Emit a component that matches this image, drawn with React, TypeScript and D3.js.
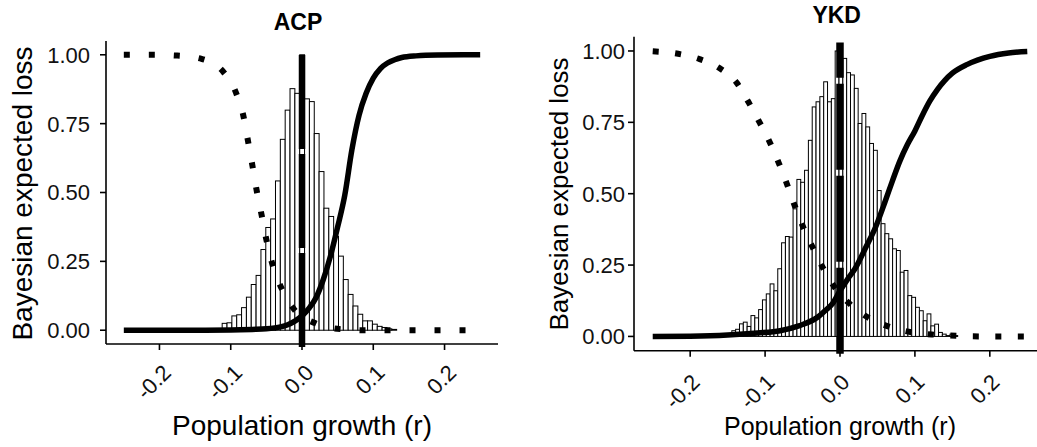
import * as d3 from 'd3'

// shared axis ticks
const xTicks = [-0.2, -0.1, 0, 0.1, 0.2]
const yTicks = [0, 0.25, 0.5, 0.75, 1]

// ACP histogram (scaled so the tallest bin = 1)
const acpBinStart = -0.112
const acpBinWidth = 0.0068
const acpBins = [
  0.025, 0.027, 0.052, 0.056, 0.082, 0.12, 0.166, 0.199, 0.293, 0.373, 0.404, 0.542,
  0.693, 0.799, 0.877, 0.86, 1.0, 0.84, 0.83, 0.714, 0.576, 0.443, 0.413, 0.341,
  0.269, 0.184, 0.13, 0.088, 0.058, 0.034, 0.034, 0.022, 0.014, 0.01, 0.005, 0.003,
]
// ACP expected loss curves
const acpSolidX = [-0.25, -0.15, -0.1, -0.07, -0.05, -0.03, -0.02, -0.01, 0, 0.01, 0.02, 0.03, 0.04, 0.05, 0.06, 0.07, 0.08, 0.09, 0.1, 0.11, 0.12, 0.13, 0.14, 0.16, 0.19, 0.25]
const acpSolidY = [0, 0, 0.001, 0.003, 0.005, 0.012, 0.02, 0.033, 0.052, 0.08, 0.12, 0.185, 0.27, 0.375, 0.49, 0.655, 0.78, 0.86, 0.915, 0.95, 0.97, 0.982, 0.99, 0.996, 0.999, 1.0]
const acpDotX = [-0.25, -0.21, -0.175, -0.141, -0.111, -0.0926, -0.082, -0.0757, -0.0696, -0.0635, -0.0565, -0.05, -0.0415, -0.0285, -0.0112, 0.019, 0.054, 0.088, 0.25]
const acpDotY = [1.0, 1.0, 0.997, 0.985, 0.94, 0.862, 0.775, 0.686, 0.598, 0.506, 0.416, 0.329, 0.239, 0.151, 0.076, 0.025, 0.004, 0, 0]
const acpVTop = 1.01

// YKD histogram
const ykdBinStart = -0.1444
const ykdBinWidth = 0.00511
const ykdBins = [
  0.02, 0.025, 0.044, 0.05, 0.035, 0.073, 0.065, 0.094, 0.128, 0.149, 0.184, 0.16,
  0.237, 0.328, 0.35, 0.348, 0.447, 0.55, 0.54, 0.582, 0.687, 0.804, 0.822, 0.84,
  0.892, 0.822, 0.833, 1.0, 0.95, 0.974, 0.924, 0.916, 0.869, 0.746, 0.781, 0.734,
  0.676, 0.652, 0.511, 0.395, 0.36, 0.342, 0.307, 0.301, 0.225, 0.231, 0.143, 0.137,
  0.102, 0.09, 0.055, 0.079, 0.037, 0.043, 0.014, 0.008, 0.003, 0.008, 0.003,
]
// YKD expected loss curves
const ykdSolidX = [-0.25, -0.2, -0.15, -0.11, -0.08, -0.055, -0.03, -0.02, -0.01, 0, 0.01, 0.02, 0.035, 0.047, 0.06, 0.07, 0.08, 0.09, 0.1, 0.11, 0.12, 0.13, 0.14, 0.15, 0.17, 0.2, 0.225, 0.25]
const ykdSolidY = [0, 0.001, 0.005, 0.012, 0.02, 0.037, 0.067, 0.09, 0.115, 0.16, 0.2, 0.237, 0.315, 0.38, 0.471, 0.545, 0.615, 0.672, 0.72, 0.775, 0.825, 0.865, 0.897, 0.922, 0.953, 0.981, 0.993, 0.998]
const ykdDotX = [-0.25, -0.216, -0.188, -0.161, -0.138, -0.122, -0.107, -0.093, -0.081, -0.07, -0.0596, -0.048, -0.035, -0.0213, -0.0053, 0.0156, 0.041, 0.068, 0.097, 0.127, 0.156, 0.186, 0.25]
const ykdDotY = [0.999, 0.99, 0.972, 0.94, 0.889, 0.82, 0.748, 0.676, 0.603, 0.528, 0.452, 0.376, 0.304, 0.233, 0.166, 0.108, 0.061, 0.032, 0.014, 0.006, 0.002, 0, 0]
const ykdVTop = 1.03

const FONT = 'Liberation Sans, Arial, sans-serif'

interface Layout {
  left: number; right: number; top: number; bottom: number
  titleX: number; titleY: number
  yLabX: number; yLabY: number; yLabSize: number
  xLabX: number; xLabY: number; xLabSize: number
  tickLabEnd: number
  xTickDx: number; xTickY: number
  tickSize: number
  dotDash: string; vDash: string; vWidth: number
}

interface PanelProps {
  title: string
  binStart: number
  binWidth: number
  bins: number[]
  solidX: number[]; solidY: number[]
  dotX: number[]; dotY: number[]
  vTop: number
  lay: Layout
}

function Panel({ title, binStart, binWidth, bins, solidX, solidY, dotX, dotY, vTop, lay }: PanelProps) {
  const x = d3.scaleLinear().domain([-0.275, 0.275]).range([lay.left, lay.right])
  const y = d3.scaleLinear().domain([-0.05, 1.05]).range([lay.bottom, lay.top])
  const line = d3.line<[number, number]>()
    .x(d => x(d[0]))
    .y(d => y(d[1]))
    .curve(d3.curveMonotoneX)

  const solid = solidX.map((v, i) => [v, solidY[i]] as [number, number])
  const dotted = dotX.map((v, i) => [v, dotY[i]] as [number, number])
  const bw = x(binWidth) - x(0)

  return (
    <g>
      {/* histogram */}
      {bins.map((h, i) => (
        <rect key={i}
          x={x(binStart + i * binWidth)} y={y(h)}
          width={bw} height={y(0) - y(h)}
          fill="#fff" stroke="#000" strokeWidth={1} />
      ))}

      <path d={line(dotted) ?? ''} fill="none" stroke="#000" strokeWidth={6}
        strokeDasharray={lay.dotDash} />
      <path d={line(solid) ?? ''} fill="none" stroke="#000" strokeWidth={5.5}
        strokeLinejoin="round" />

      {/* reference line at r = 0, drawn bottom-up so the gaps land where they should */}
      <line x1={x(0)} x2={x(0)} y1={lay.bottom + 3} y2={y(vTop)}
        stroke="#000" strokeWidth={lay.vWidth} strokeDasharray={lay.vDash} />

      {/* axes */}
      <line x1={lay.left} x2={lay.right} y1={lay.bottom} y2={lay.bottom} stroke="#000" strokeWidth={1.6} />
      <line x1={lay.left} x2={lay.left} y1={lay.top} y2={lay.bottom} stroke="#000" strokeWidth={1.6} />

      {yTicks.map(t => (
        <g key={t}>
          <line x1={lay.left - 6} x2={lay.left} y1={y(t)} y2={y(t)} stroke="#000" strokeWidth={1.6} />
          <text x={lay.tickLabEnd} y={y(t)} dy="0.36em" textAnchor="end"
            fontSize={lay.tickSize} fontFamily={FONT} fill="#111">{t.toFixed(2)}</text>
        </g>
      ))}
      {xTicks.map(t => (
        <g key={t}>
          <line x1={x(t)} x2={x(t)} y1={lay.bottom} y2={lay.bottom + 6} stroke="#000" strokeWidth={1.6} />
          <text transform={`translate(${x(t) + lay.xTickDx},${lay.xTickY}) rotate(-45)`} textAnchor="end"
            fontSize={lay.tickSize} fontFamily={FONT} fill="#111">{t.toFixed(1)}</text>
        </g>
      ))}

      <text x={lay.titleX} y={lay.titleY} textAnchor="middle" fontWeight="bold"
        fontSize={23} fontFamily={FONT} fill="#000">{title}</text>
      <text transform={`translate(${lay.yLabX},${lay.yLabY}) rotate(-90)`} textAnchor="middle"
        fontSize={lay.yLabSize} fontFamily={FONT} fill="#000">Bayesian expected loss</text>
      <text x={lay.xLabX} y={lay.xLabY} textAnchor="middle"
        fontSize={lay.xLabSize} fontFamily={FONT} fill="#000">Population growth (r)</text>
    </g>
  )
}

const acpLayout: Layout = {
  left: 106, right: 498, top: 41, bottom: 344,
  titleX: 298, titleY: 30,
  yLabX: 32, yLabY: 193.5, yLabSize: 28,
  xLabX: 302, xLabY: 435, xLabSize: 28,
  tickLabEnd: 90,
  xTickDx: 13, xTickY: 374,
  tickSize: 22,
  dotDash: '6 19', vDash: '94 5', vWidth: 6.5,
}

const ykdLayout: Layout = {
  left: 634, right: 1046, top: 36.7, bottom: 350.7,
  titleX: 836.7, titleY: 23,
  yLabX: 568, yLabY: 194, yLabSize: 26,
  xLabX: 840, xLabY: 434.5, xLabSize: 25,
  tickLabEnd: 625,
  xTickDx: 11, xTickY: 383.5,
  tickSize: 22,
  dotDash: '6 16.5', vDash: '86 6', vWidth: 7.5,
}

export default function App() {
  return (
    <svg width={1037} height={447} style={{ position: 'absolute', left: 0, top: 0, background: '#fff' }}>
      <rect width={1037} height={447} fill="#fff" />
      <Panel title="ACP" binStart={acpBinStart} binWidth={acpBinWidth} bins={acpBins}
        solidX={acpSolidX} solidY={acpSolidY} dotX={acpDotX} dotY={acpDotY}
        vTop={acpVTop} lay={acpLayout} />
      <Panel title="YKD" binStart={ykdBinStart} binWidth={ykdBinWidth} bins={ykdBins}
        solidX={ykdSolidX} solidY={ykdSolidY} dotX={ykdDotX} dotY={ykdDotY}
        vTop={ykdVTop} lay={ykdLayout} />
    </svg>
  )
}
